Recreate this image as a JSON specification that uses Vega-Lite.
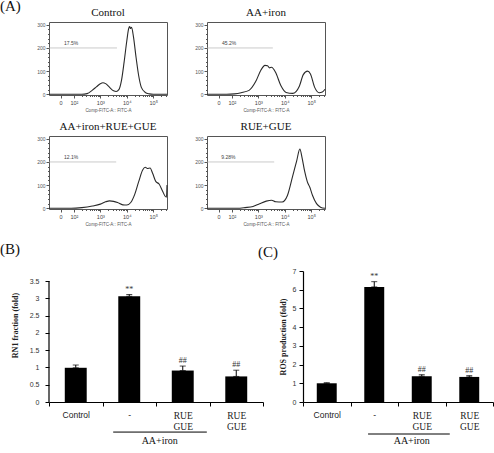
{
  "$schema": "https://vega.github.io/schema/vega-lite/v6.json",
  "autosize": {"type": "none"},
  "padding": {"left": 49, "top": 22, "right": 445, "bottom": 431},
  "config": {
    "font": "Liberation Sans",
    "view": {"stroke": "#555", "strokeWidth": 1},
    "axis": {"grid": false, "labelOverlap": false},
    "title": {"font": "Liberation Serif", "fontSize": 11, "fontWeight": "normal", "offset": 4, "color": "#111"}
  },
  "datasets": {
    "hist": [
      {"panel": "Control", "log_fitc": 1.06, "count": 0}, {"panel": "Control", "log_fitc": 2.3, "count": 0}, {"panel": "Control", "log_fitc": 2.5, "count": 3}, {"panel": "Control", "log_fitc": 2.7, "count": 18}, {"panel": "Control", "log_fitc": 2.85, "count": 32}, {"panel": "Control", "log_fitc": 3.0, "count": 46}, {"panel": "Control", "log_fitc": 3.1, "count": 50}, {"panel": "Control", "log_fitc": 3.2, "count": 46}, {"panel": "Control", "log_fitc": 3.35, "count": 30}, {"panel": "Control", "log_fitc": 3.5, "count": 15}, {"panel": "Control", "log_fitc": 3.6, "count": 12}, {"panel": "Control", "log_fitc": 3.7, "count": 20}, {"panel": "Control", "log_fitc": 3.8, "count": 60}, {"panel": "Control", "log_fitc": 3.9, "count": 140}, {"panel": "Control", "log_fitc": 4.0, "count": 230}, {"panel": "Control", "log_fitc": 4.07, "count": 283}, {"panel": "Control", "log_fitc": 4.11, "count": 292}, {"panel": "Control", "log_fitc": 4.14, "count": 284}, {"panel": "Control", "log_fitc": 4.18, "count": 289}, {"panel": "Control", "log_fitc": 4.25, "count": 250}, {"panel": "Control", "log_fitc": 4.35, "count": 160}, {"panel": "Control", "log_fitc": 4.45, "count": 80}, {"panel": "Control", "log_fitc": 4.55, "count": 30}, {"panel": "Control", "log_fitc": 4.7, "count": 8}, {"panel": "Control", "log_fitc": 4.85, "count": 2}, {"panel": "Control", "log_fitc": 5.0, "count": 0}, {"panel": "Control", "log_fitc": 5.52, "count": 0},
      {"panel": "AA+iron", "log_fitc": 1.06, "count": 0}, {"panel": "AA+iron", "log_fitc": 1.8, "count": 0}, {"panel": "AA+iron", "log_fitc": 2.1, "count": 2}, {"panel": "AA+iron", "log_fitc": 2.35, "count": 7}, {"panel": "AA+iron", "log_fitc": 2.65, "count": 17}, {"panel": "AA+iron", "log_fitc": 2.9, "count": 55}, {"panel": "AA+iron", "log_fitc": 3.1, "count": 105}, {"panel": "AA+iron", "log_fitc": 3.25, "count": 125}, {"panel": "AA+iron", "log_fitc": 3.35, "count": 123}, {"panel": "AA+iron", "log_fitc": 3.42, "count": 114}, {"panel": "AA+iron", "log_fitc": 3.5, "count": 117}, {"panel": "AA+iron", "log_fitc": 3.65, "count": 95}, {"panel": "AA+iron", "log_fitc": 3.85, "count": 38}, {"panel": "AA+iron", "log_fitc": 4.05, "count": 8}, {"panel": "AA+iron", "log_fitc": 4.3, "count": 4}, {"panel": "AA+iron", "log_fitc": 4.55, "count": 35}, {"panel": "AA+iron", "log_fitc": 4.7, "count": 85}, {"panel": "AA+iron", "log_fitc": 4.86, "count": 100}, {"panel": "AA+iron", "log_fitc": 4.97, "count": 88}, {"panel": "AA+iron", "log_fitc": 5.13, "count": 30}, {"panel": "AA+iron", "log_fitc": 5.3, "count": 7}, {"panel": "AA+iron", "log_fitc": 5.42, "count": 10}, {"panel": "AA+iron", "log_fitc": 5.52, "count": 22},
      {"panel": "AA+iron+RUE+GUE", "log_fitc": 1.06, "count": 0}, {"panel": "AA+iron+RUE+GUE", "log_fitc": 1.9, "count": 0}, {"panel": "AA+iron+RUE+GUE", "log_fitc": 2.3, "count": 3}, {"panel": "AA+iron+RUE+GUE", "log_fitc": 2.7, "count": 10}, {"panel": "AA+iron+RUE+GUE", "log_fitc": 3.0, "count": 18}, {"panel": "AA+iron+RUE+GUE", "log_fitc": 3.2, "count": 28}, {"panel": "AA+iron+RUE+GUE", "log_fitc": 3.35, "count": 32}, {"panel": "AA+iron+RUE+GUE", "log_fitc": 3.5, "count": 30}, {"panel": "AA+iron+RUE+GUE", "log_fitc": 3.65, "count": 25}, {"panel": "AA+iron+RUE+GUE", "log_fitc": 3.85, "count": 15}, {"panel": "AA+iron+RUE+GUE", "log_fitc": 4.0, "count": 14}, {"panel": "AA+iron+RUE+GUE", "log_fitc": 4.15, "count": 25}, {"panel": "AA+iron+RUE+GUE", "log_fitc": 4.3, "count": 60}, {"panel": "AA+iron+RUE+GUE", "log_fitc": 4.45, "count": 115}, {"panel": "AA+iron+RUE+GUE", "log_fitc": 4.6, "count": 165}, {"panel": "AA+iron+RUE+GUE", "log_fitc": 4.7, "count": 177}, {"panel": "AA+iron+RUE+GUE", "log_fitc": 4.78, "count": 172}, {"panel": "AA+iron+RUE+GUE", "log_fitc": 4.88, "count": 174}, {"panel": "AA+iron+RUE+GUE", "log_fitc": 4.98, "count": 150}, {"panel": "AA+iron+RUE+GUE", "log_fitc": 5.1, "count": 115}, {"panel": "AA+iron+RUE+GUE", "log_fitc": 5.22, "count": 105}, {"panel": "AA+iron+RUE+GUE", "log_fitc": 5.35, "count": 75}, {"panel": "AA+iron+RUE+GUE", "log_fitc": 5.45, "count": 52}, {"panel": "AA+iron+RUE+GUE", "log_fitc": 5.5, "count": 48}, {"panel": "AA+iron+RUE+GUE", "log_fitc": 5.52, "count": 100},
      {"panel": "RUE+GUE", "log_fitc": 1.06, "count": 0}, {"panel": "RUE+GUE", "log_fitc": 2.2, "count": 0}, {"panel": "RUE+GUE", "log_fitc": 2.5, "count": 3}, {"panel": "RUE+GUE", "log_fitc": 2.8, "count": 8}, {"panel": "RUE+GUE", "log_fitc": 3.05, "count": 20}, {"panel": "RUE+GUE", "log_fitc": 3.3, "count": 31}, {"panel": "RUE+GUE", "log_fitc": 3.5, "count": 35}, {"panel": "RUE+GUE", "log_fitc": 3.66, "count": 28}, {"panel": "RUE+GUE", "log_fitc": 3.9, "count": 27}, {"panel": "RUE+GUE", "log_fitc": 4.1, "count": 55}, {"panel": "RUE+GUE", "log_fitc": 4.3, "count": 140}, {"panel": "RUE+GUE", "log_fitc": 4.45, "count": 205}, {"panel": "RUE+GUE", "log_fitc": 4.57, "count": 256}, {"panel": "RUE+GUE", "log_fitc": 4.65, "count": 220}, {"panel": "RUE+GUE", "log_fitc": 4.75, "count": 160}, {"panel": "RUE+GUE", "log_fitc": 4.85, "count": 115}, {"panel": "RUE+GUE", "log_fitc": 4.95, "count": 90}, {"panel": "RUE+GUE", "log_fitc": 5.05, "count": 55}, {"panel": "RUE+GUE", "log_fitc": 5.2, "count": 20}, {"panel": "RUE+GUE", "log_fitc": 5.35, "count": 5}, {"panel": "RUE+GUE", "log_fitc": 5.52, "count": 0}
    ],
    "gates": [
      {"panel": "Control", "part": "gate", "log_fitc": 1.06, "log_fitc_end": 3.63, "count": 200, "pct": ""},
      {"panel": "Control", "part": "label", "log_fitc": 1.63, "log_fitc_end": 1.63, "count": 200, "pct": "17.5%"},
      {"panel": "AA+iron", "part": "gate", "log_fitc": 1.06, "log_fitc_end": 3.55, "count": 200, "pct": ""},
      {"panel": "AA+iron", "part": "label", "log_fitc": 1.63, "log_fitc_end": 1.63, "count": 200, "pct": "45.2%"},
      {"panel": "AA+iron+RUE+GUE", "part": "gate", "log_fitc": 1.06, "log_fitc_end": 3.6, "count": 200, "pct": ""},
      {"panel": "AA+iron+RUE+GUE", "part": "label", "log_fitc": 1.63, "log_fitc_end": 1.63, "count": 200, "pct": "12.1%"},
      {"panel": "RUE+GUE", "part": "gate", "log_fitc": 1.06, "log_fitc_end": 3.6, "count": 200, "pct": ""},
      {"panel": "RUE+GUE", "part": "label", "log_fitc": 1.6, "log_fitc_end": 1.6, "count": 200, "pct": "9.28%"}
    ],
    "bars": [
      {"chart": "B", "group": "Control", "value": 0.99, "hi": 1.07, "sig": ""},
      {"chart": "B", "group": "AA+iron", "value": 3.06, "hi": 3.11, "sig": "**"},
      {"chart": "B", "group": "AA+iron+RUE+GUE", "value": 0.91, "hi": 1.04, "sig": "##"},
      {"chart": "B", "group": "RUE+GUE", "value": 0.74, "hi": 0.92, "sig": "##"},
      {"chart": "C", "group": "Control", "value": 1.0, "hi": 1.03, "sig": ""},
      {"chart": "C", "group": "AA+iron", "value": 6.15, "hi": 6.43, "sig": "**"},
      {"chart": "C", "group": "AA+iron+RUE+GUE", "value": 1.38, "hi": 1.46, "sig": "##"},
      {"chart": "C", "group": "RUE+GUE", "value": 1.34, "hi": 1.41, "sig": "##"}
    ]
  },
  "vconcat": [
    {
      "columns": 2,
      "spacing": {"row": 41, "column": 40},
      "bounds": "flush",
      "title": {"text": "(A)", "anchor": "start", "frame": "group", "dx": -49, "dy": 1, "offset": -6, "fontSize": 15, "font": "Liberation Serif", "fontWeight": "normal", "color": "#111"},
      "concat": [
        {
          "width": 118, "height": 73,
          "title": {"text": "Control"},
          "encoding": {
            "x": {"field": "log_fitc", "type": "quantitative", "scale": {"domain": [1.06, 5.52], "nice": false, "zero": false},
              "axis": {"values": [1.5, 2, 2.301, 2.477, 2.602, 2.699, 2.778, 2.845, 2.903, 2.954, 3, 3.301, 3.477, 3.602, 3.699, 3.778, 3.845, 3.903, 3.954, 4, 4.301, 4.477, 4.602, 4.699, 4.778, 4.845, 4.903, 4.954, 5, 5.301, 5.477],
                "labelExpr": "datum.value == 1.5 ? '0' : datum.value == 2 ? '10²' : datum.value == 3 ? '10³' : datum.value == 4 ? '10⁴' : datum.value == 5 ? '10⁵' : ''",
                "tickSize": {"condition": {"test": "datum.value == 1.5 || datum.value == 2 || datum.value == 3 || datum.value == 4 || datum.value == 5", "value": 3}, "value": 1.5},
                "title": "Comp-FITC-A:: FITC-A", "titleFontSize": 4.5, "titleFontWeight": "normal", "titleColor": "#555", "titlePadding": 2,
                "labelFontSize": 5.5, "labelColor": "#444", "labelPadding": 2, "domain": false, "tickColor": "#555", "labelOverlap": false, "labelFlush": false}},
            "y": {"field": "count", "type": "quantitative", "scale": {"domain": [-3, 312], "nice": false, "zero": false},
              "axis": {"values": [0, 20, 40, 60, 80, 100, 120, 140, 160, 180, 200, 220, 240, 260, 280, 300],
                "labelExpr": "datum.value % 100 == 0 ? datum.label : ''",
                "tickSize": {"condition": {"test": "datum.value % 100 == 0", "value": 3}, "value": 1.5},
                "title": null, "labelFontSize": 5, "labelColor": "#555", "labelPadding": 1, "domain": false, "tickColor": "#555", "labelOverlap": false}}
          },
          "layer": [
            {"data": {"name": "hist"}, "transform": [{"filter": "datum.panel == 'Control'"}],
             "mark": {"type": "line", "color": "#2a2a2a", "strokeWidth": 1.1, "interpolate": "monotone"}},
            {"data": {"name": "gates"}, "transform": [{"filter": "datum.panel == 'Control' && datum.part == 'gate'"}],
             "mark": {"type": "rule", "color": "#b5b5b5", "strokeWidth": 0.7},
             "encoding": {"x2": {"field": "log_fitc_end"}}},
            {"data": {"name": "gates"}, "transform": [{"filter": "datum.panel == 'Control' && datum.part == 'label'"}],
             "mark": {"type": "text", "align": "left", "baseline": "bottom", "dy": -2, "fontSize": 5, "color": "#444"},
             "encoding": {"text": {"field": "pct"}}}
          ]
        },
        {
          "width": 118, "height": 73,
          "title": {"text": "AA+iron"},
          "encoding": {
            "x": {"field": "log_fitc", "type": "quantitative", "scale": {"domain": [1.06, 5.52], "nice": false, "zero": false},
              "axis": {"values": [1.5, 2, 2.301, 2.477, 2.602, 2.699, 2.778, 2.845, 2.903, 2.954, 3, 3.301, 3.477, 3.602, 3.699, 3.778, 3.845, 3.903, 3.954, 4, 4.301, 4.477, 4.602, 4.699, 4.778, 4.845, 4.903, 4.954, 5, 5.301, 5.477],
                "labelExpr": "datum.value == 1.5 ? '0' : datum.value == 2 ? '10²' : datum.value == 3 ? '10³' : datum.value == 4 ? '10⁴' : datum.value == 5 ? '10⁵' : ''",
                "tickSize": {"condition": {"test": "datum.value == 1.5 || datum.value == 2 || datum.value == 3 || datum.value == 4 || datum.value == 5", "value": 3}, "value": 1.5},
                "title": "Comp-FITC-A:: FITC-A", "titleFontSize": 4.5, "titleFontWeight": "normal", "titleColor": "#555", "titlePadding": 2,
                "labelFontSize": 5.5, "labelColor": "#444", "labelPadding": 2, "domain": false, "tickColor": "#555", "labelOverlap": false, "labelFlush": false}},
            "y": {"field": "count", "type": "quantitative", "scale": {"domain": [-3, 312], "nice": false, "zero": false},
              "axis": {"values": [0, 20, 40, 60, 80, 100, 120, 140, 160, 180, 200, 220, 240, 260, 280, 300],
                "labelExpr": "datum.value % 100 == 0 ? datum.label : ''",
                "tickSize": {"condition": {"test": "datum.value % 100 == 0", "value": 3}, "value": 1.5},
                "title": null, "labelFontSize": 5, "labelColor": "#555", "labelPadding": 1, "domain": false, "tickColor": "#555", "labelOverlap": false}}
          },
          "layer": [
            {"data": {"name": "hist"}, "transform": [{"filter": "datum.panel == 'AA+iron'"}],
             "mark": {"type": "line", "color": "#2a2a2a", "strokeWidth": 1.1, "interpolate": "monotone"}},
            {"data": {"name": "gates"}, "transform": [{"filter": "datum.panel == 'AA+iron' && datum.part == 'gate'"}],
             "mark": {"type": "rule", "color": "#b5b5b5", "strokeWidth": 0.7},
             "encoding": {"x2": {"field": "log_fitc_end"}}},
            {"data": {"name": "gates"}, "transform": [{"filter": "datum.panel == 'AA+iron' && datum.part == 'label'"}],
             "mark": {"type": "text", "align": "left", "baseline": "bottom", "dy": -2, "fontSize": 5, "color": "#444"},
             "encoding": {"text": {"field": "pct"}}}
          ]
        },
        {
          "width": 118, "height": 73,
          "title": {"text": "AA+iron+RUE+GUE"},
          "encoding": {
            "x": {"field": "log_fitc", "type": "quantitative", "scale": {"domain": [1.06, 5.52], "nice": false, "zero": false},
              "axis": {"values": [1.5, 2, 2.301, 2.477, 2.602, 2.699, 2.778, 2.845, 2.903, 2.954, 3, 3.301, 3.477, 3.602, 3.699, 3.778, 3.845, 3.903, 3.954, 4, 4.301, 4.477, 4.602, 4.699, 4.778, 4.845, 4.903, 4.954, 5, 5.301, 5.477],
                "labelExpr": "datum.value == 1.5 ? '0' : datum.value == 2 ? '10²' : datum.value == 3 ? '10³' : datum.value == 4 ? '10⁴' : datum.value == 5 ? '10⁵' : ''",
                "tickSize": {"condition": {"test": "datum.value == 1.5 || datum.value == 2 || datum.value == 3 || datum.value == 4 || datum.value == 5", "value": 3}, "value": 1.5},
                "title": "Comp-FITC-A:: FITC-A", "titleFontSize": 4.5, "titleFontWeight": "normal", "titleColor": "#555", "titlePadding": 2,
                "labelFontSize": 5.5, "labelColor": "#444", "labelPadding": 2, "domain": false, "tickColor": "#555", "labelOverlap": false, "labelFlush": false}},
            "y": {"field": "count", "type": "quantitative", "scale": {"domain": [-3, 312], "nice": false, "zero": false},
              "axis": {"values": [0, 20, 40, 60, 80, 100, 120, 140, 160, 180, 200, 220, 240, 260, 280, 300],
                "labelExpr": "datum.value % 100 == 0 ? datum.label : ''",
                "tickSize": {"condition": {"test": "datum.value % 100 == 0", "value": 3}, "value": 1.5},
                "title": null, "labelFontSize": 5, "labelColor": "#555", "labelPadding": 1, "domain": false, "tickColor": "#555", "labelOverlap": false}}
          },
          "layer": [
            {"data": {"name": "hist"}, "transform": [{"filter": "datum.panel == 'AA+iron+RUE+GUE'"}],
             "mark": {"type": "line", "color": "#2a2a2a", "strokeWidth": 1.1, "interpolate": "monotone"}},
            {"data": {"name": "gates"}, "transform": [{"filter": "datum.panel == 'AA+iron+RUE+GUE' && datum.part == 'gate'"}],
             "mark": {"type": "rule", "color": "#b5b5b5", "strokeWidth": 0.7},
             "encoding": {"x2": {"field": "log_fitc_end"}}},
            {"data": {"name": "gates"}, "transform": [{"filter": "datum.panel == 'AA+iron+RUE+GUE' && datum.part == 'label'"}],
             "mark": {"type": "text", "align": "left", "baseline": "bottom", "dy": -2, "fontSize": 5, "color": "#444"},
             "encoding": {"text": {"field": "pct"}}}
          ]
        },
        {
          "width": 118, "height": 73,
          "title": {"text": "RUE+GUE"},
          "encoding": {
            "x": {"field": "log_fitc", "type": "quantitative", "scale": {"domain": [1.06, 5.52], "nice": false, "zero": false},
              "axis": {"values": [1.5, 2, 2.301, 2.477, 2.602, 2.699, 2.778, 2.845, 2.903, 2.954, 3, 3.301, 3.477, 3.602, 3.699, 3.778, 3.845, 3.903, 3.954, 4, 4.301, 4.477, 4.602, 4.699, 4.778, 4.845, 4.903, 4.954, 5, 5.301, 5.477],
                "labelExpr": "datum.value == 1.5 ? '0' : datum.value == 2 ? '10²' : datum.value == 3 ? '10³' : datum.value == 4 ? '10⁴' : datum.value == 5 ? '10⁵' : ''",
                "tickSize": {"condition": {"test": "datum.value == 1.5 || datum.value == 2 || datum.value == 3 || datum.value == 4 || datum.value == 5", "value": 3}, "value": 1.5},
                "title": "Comp-FITC-A:: FITC-A", "titleFontSize": 4.5, "titleFontWeight": "normal", "titleColor": "#555", "titlePadding": 2,
                "labelFontSize": 5.5, "labelColor": "#444", "labelPadding": 2, "domain": false, "tickColor": "#555", "labelOverlap": false, "labelFlush": false}},
            "y": {"field": "count", "type": "quantitative", "scale": {"domain": [-3, 312], "nice": false, "zero": false},
              "axis": {"values": [0, 20, 40, 60, 80, 100, 120, 140, 160, 180, 200, 220, 240, 260, 280, 300],
                "labelExpr": "datum.value % 100 == 0 ? datum.label : ''",
                "tickSize": {"condition": {"test": "datum.value % 100 == 0", "value": 3}, "value": 1.5},
                "title": null, "labelFontSize": 5, "labelColor": "#555", "labelPadding": 1, "domain": false, "tickColor": "#555", "labelOverlap": false}}
          },
          "layer": [
            {"data": {"name": "hist"}, "transform": [{"filter": "datum.panel == 'RUE+GUE'"}],
             "mark": {"type": "line", "color": "#2a2a2a", "strokeWidth": 1.1, "interpolate": "monotone"}},
            {"data": {"name": "gates"}, "transform": [{"filter": "datum.panel == 'RUE+GUE' && datum.part == 'gate'"}],
             "mark": {"type": "rule", "color": "#b5b5b5", "strokeWidth": 0.7},
             "encoding": {"x2": {"field": "log_fitc_end"}}},
            {"data": {"name": "gates"}, "transform": [{"filter": "datum.panel == 'RUE+GUE' && datum.part == 'label'"}],
             "mark": {"type": "text", "align": "left", "baseline": "bottom", "dy": -2, "fontSize": 5, "color": "#444"},
             "encoding": {"text": {"field": "pct"}}}
          ]
        }
      ]
    },
    {
      "hconcat": [
        {
          "width": 214, "height": 131,
          "view": {"stroke": null},
          "title": {"text": "(B)", "anchor": "start", "frame": "group", "dx": -49, "offset": 14, "fontSize": 15},
          "encoding": {
            "x": {"field": "group", "type": "nominal",
              "scale": {"domain": ["Control", "AA+iron", "AA+iron+RUE+GUE", "RUE+GUE"], "paddingInner": 0, "paddingOuter": 0},
              "axis": {"title": null, "tickBand": "extent", "labelAngle": 0, "tickSize": 4, "domainColor": "black", "tickColor": "black", "domainWidth": 1.2,
                "labelExpr": "datum.value == 'Control' ? 'Control' : datum.value == 'AA+iron' ? '-' : (datum.value == 'AA+iron+RUE+GUE' || datum.value == 'RUE+GUE') ? ['RUE', 'GUE'] : ''",
                "labelFont": {"condition": {"test": "datum.value == 'Control' || datum.value == 'AA+iron'", "value": "Liberation Sans"}, "value": "Liberation Serif"},
                "labelFontSize": {"condition": {"test": "datum.value == 'Control' || datum.value == 'AA+iron'", "value": 8.5}, "value": 9.5},
                "labelColor": "#222", "labelPadding": 4, "labelLineHeight": 11.5, "labelBaseline": "top"}}
          },
          "layer": [
            {"data": {"name": "bars"}, "transform": [{"filter": "datum.chart == 'B'"}],
             "mark": {"type": "bar", "color": "black", "width": {"band": 0.41}},
             "encoding": {"y": {"field": "value", "type": "quantitative", "title": "RN1 fraction (fold)", "scale": {"domain": [0, 3.79], "nice": false},
               "axis": {"titleFont": "Liberation Serif", "titleFontSize": 8, "titleFontWeight": "bold", "titleColor": "#222", "titlePadding": 10, "titleY": 54, "domain": false,
                 "values": [0, 0.5, 1, 1.5, 2, 2.5, 3, 3.5], "format": "~g", "labelFontSize": 7, "labelColor": "#333", "labelPadding": 6, "tickSize": 4, "tickColor": "black", "labelOverlap": false}}}},
            {"data": {"name": "bars"}, "transform": [{"filter": "datum.chart == 'B'"}],
             "mark": {"type": "errorbar", "color": "black", "ticks": {"size": 6, "color": "black"}, "rule": {"color": "black"}},
             "encoding": {"y": {"field": "value", "type": "quantitative", "title": "RN1 fraction (fold)",
               "axis": {"titleFont": "Liberation Serif", "titleFontSize": 8, "titleFontWeight": "bold", "titleColor": "#222", "titlePadding": 10, "titleY": 54, "domain": false,
                 "values": [0, 0.5, 1, 1.5, 2, 2.5, 3, 3.5], "format": "~g", "labelFontSize": 7, "labelColor": "#333", "labelPadding": 6, "tickSize": 4, "tickColor": "black", "labelOverlap": false}}, "y2": {"field": "hi"}}},
            {"data": {"name": "bars"}, "transform": [{"filter": "datum.chart == 'B' && datum.sig != ''"}],
             "mark": {"type": "text", "baseline": "bottom", "dy": -1, "font": "Liberation Serif", "fontSize": 8, "color": "#333"},
             "encoding": {"y": {"field": "hi", "type": "quantitative", "title": "RN1 fraction (fold)",
               "axis": {"titleFont": "Liberation Serif", "titleFontSize": 8, "titleFontWeight": "bold", "titleColor": "#222", "titlePadding": 10, "titleY": 54, "domain": false,
                 "values": [0, 0.5, 1, 1.5, 2, 2.5, 3, 3.5], "format": "~g", "labelFontSize": 7, "labelColor": "#333", "labelPadding": 6, "tickSize": 4, "tickColor": "black", "labelOverlap": false}}, "text": {"field": "sig"}}},
            {"data": {"values": [{"label": "AA+iron"}]},
             "mark": {"type": "rule", "color": "black", "strokeWidth": 1},
             "encoding": {"x": {"datum": "AA+iron", "type": "nominal", "bandPosition": 0.2}, "x2": {"datum": "AA+iron+RUE+GUE", "bandPosition": 0.95}, "y": {"datum": -0.87, "type": "quantitative", "title": "RN1 fraction (fold)",
               "axis": {"titleFont": "Liberation Serif", "titleFontSize": 8, "titleFontWeight": "bold", "titleColor": "#222", "titlePadding": 10, "titleY": 54, "domain": false,
                 "values": [0, 0.5, 1, 1.5, 2, 2.5, 3, 3.5], "format": "~g", "labelFontSize": 7, "labelColor": "#333", "labelPadding": 6, "tickSize": 4, "tickColor": "black", "labelOverlap": false}}}},
            {"data": {"values": [{"label": "AA+iron"}]},
             "mark": {"type": "text", "font": "Liberation Serif", "fontSize": 10, "color": "#111", "baseline": "middle"},
             "encoding": {"x": {"datum": "AA+iron+RUE+GUE", "type": "nominal", "bandPosition": 0.07}, "y": {"datum": -1.13, "type": "quantitative", "title": "RN1 fraction (fold)",
               "axis": {"titleFont": "Liberation Serif", "titleFontSize": 8, "titleFontWeight": "bold", "titleColor": "#222", "titlePadding": 10, "titleY": 54, "domain": false,
                 "values": [0, 0.5, 1, 1.5, 2, 2.5, 3, 3.5], "format": "~g", "labelFontSize": 7, "labelColor": "#333", "labelPadding": 6, "tickSize": 4, "tickColor": "black", "labelOverlap": false}}, "text": {"field": "label"}}},
            {"data": {"values": [{"label": "axis"}]},
             "mark": {"type": "rule", "color": "black", "strokeWidth": 1.2},
             "encoding": {"x": {"datum": "Control", "type": "nominal", "bandPosition": 0}, "y": {"datum": 0, "type": "quantitative", "title": "RN1 fraction (fold)",
               "axis": {"titleFont": "Liberation Serif", "titleFontSize": 8, "titleFontWeight": "bold", "titleColor": "#222", "titlePadding": 10, "titleY": 54, "domain": false,
                 "values": [0, 0.5, 1, 1.5, 2, 2.5, 3, 3.5], "format": "~g", "labelFontSize": 7, "labelColor": "#333", "labelPadding": 6, "tickSize": 4, "tickColor": "black", "labelOverlap": false}}, "y2": {"datum": 3.5}}}
          ]
        },
        {
          "width": 190, "height": 131,
          "view": {"stroke": null},
          "title": {"text": "(C)", "anchor": "start", "frame": "group", "dx": -45, "offset": 7, "fontSize": 15},
          "encoding": {
            "x": {"field": "group", "type": "nominal",
              "scale": {"domain": ["Control", "AA+iron", "AA+iron+RUE+GUE", "RUE+GUE"], "paddingInner": 0, "paddingOuter": 0},
              "axis": {"title": null, "tickBand": "extent", "labelAngle": 0, "tickSize": 4, "domainColor": "black", "tickColor": "black", "domainWidth": 1.2,
                "labelExpr": "datum.value == 'Control' ? 'Control' : datum.value == 'AA+iron' ? '-' : (datum.value == 'AA+iron+RUE+GUE' || datum.value == 'RUE+GUE') ? ['RUE', 'GUE'] : ''",
                "labelFont": {"condition": {"test": "datum.value == 'Control' || datum.value == 'AA+iron'", "value": "Liberation Sans"}, "value": "Liberation Serif"},
                "labelFontSize": {"condition": {"test": "datum.value == 'Control' || datum.value == 'AA+iron'", "value": 8.5}, "value": 9.5},
                "labelColor": "#222", "labelPadding": 4, "labelLineHeight": 11.5, "labelBaseline": "top"}}
          },
          "layer": [
            {"data": {"name": "bars"}, "transform": [{"filter": "datum.chart == 'C'"}],
             "mark": {"type": "bar", "color": "black", "width": {"band": 0.42}},
             "encoding": {"y": {"field": "value", "type": "quantitative", "title": "ROS production (fold)", "scale": {"domain": [0, 7], "nice": false},
               "axis": {"titleFont": "Liberation Serif", "titleFontSize": 8, "titleFontWeight": "bold", "titleColor": "#222", "titlePadding": 5,
                 "values": [0, 1, 2, 3, 4, 5, 6, 7], "format": "~g", "labelFontSize": 7, "labelColor": "#333", "labelPadding": 3, "tickSize": 4, "domainColor": "black", "tickColor": "black", "domainWidth": 1.2, "labelOverlap": false}}}},
            {"data": {"name": "bars"}, "transform": [{"filter": "datum.chart == 'C'"}],
             "mark": {"type": "errorbar", "color": "black", "ticks": {"size": 6, "color": "black"}, "rule": {"color": "black"}},
             "encoding": {"y": {"field": "value", "type": "quantitative", "title": "ROS production (fold)",
               "axis": {"titleFont": "Liberation Serif", "titleFontSize": 8, "titleFontWeight": "bold", "titleColor": "#222", "titlePadding": 5,
                 "values": [0, 1, 2, 3, 4, 5, 6, 7], "format": "~g", "labelFontSize": 7, "labelColor": "#333", "labelPadding": 3, "tickSize": 4, "domainColor": "black", "tickColor": "black", "domainWidth": 1.2, "labelOverlap": false}}, "y2": {"field": "hi"}}},
            {"data": {"name": "bars"}, "transform": [{"filter": "datum.chart == 'C' && datum.sig != ''"}],
             "mark": {"type": "text", "baseline": "bottom", "dy": -1, "font": "Liberation Serif", "fontSize": 8, "color": "#333"},
             "encoding": {"y": {"field": "hi", "type": "quantitative", "title": "ROS production (fold)",
               "axis": {"titleFont": "Liberation Serif", "titleFontSize": 8, "titleFontWeight": "bold", "titleColor": "#222", "titlePadding": 5,
                 "values": [0, 1, 2, 3, 4, 5, 6, 7], "format": "~g", "labelFontSize": 7, "labelColor": "#333", "labelPadding": 3, "tickSize": 4, "domainColor": "black", "tickColor": "black", "domainWidth": 1.2, "labelOverlap": false}}, "text": {"field": "sig"}}},
            {"data": {"values": [{"label": "AA+iron"}]},
             "mark": {"type": "rule", "color": "black", "strokeWidth": 1},
             "encoding": {"x": {"datum": "AA+iron", "type": "nominal", "bandPosition": 0.37}, "x2": {"datum": "AA+iron+RUE+GUE", "bandPosition": 1.09}, "y": {"datum": -1.71, "type": "quantitative", "title": "ROS production (fold)",
               "axis": {"titleFont": "Liberation Serif", "titleFontSize": 8, "titleFontWeight": "bold", "titleColor": "#222", "titlePadding": 5,
                 "values": [0, 1, 2, 3, 4, 5, 6, 7], "format": "~g", "labelFontSize": 7, "labelColor": "#333", "labelPadding": 3, "tickSize": 4, "domainColor": "black", "tickColor": "black", "domainWidth": 1.2, "labelOverlap": false}}}},
            {"data": {"values": [{"label": "AA+iron"}]},
             "mark": {"type": "text", "font": "Liberation Serif", "fontSize": 10, "color": "#111", "baseline": "middle"},
             "encoding": {"x": {"datum": "AA+iron+RUE+GUE", "type": "nominal", "bandPosition": 0.29}, "y": {"datum": -2.08, "type": "quantitative", "title": "ROS production (fold)",
               "axis": {"titleFont": "Liberation Serif", "titleFontSize": 8, "titleFontWeight": "bold", "titleColor": "#222", "titlePadding": 5,
                 "values": [0, 1, 2, 3, 4, 5, 6, 7], "format": "~g", "labelFontSize": 7, "labelColor": "#333", "labelPadding": 3, "tickSize": 4, "domainColor": "black", "tickColor": "black", "domainWidth": 1.2, "labelOverlap": false}}, "text": {"field": "label"}}}
          ]
        }
      ],
      "spacing": 40,
      "bounds": "flush"
    }
  ],
  "spacing": 15
}
